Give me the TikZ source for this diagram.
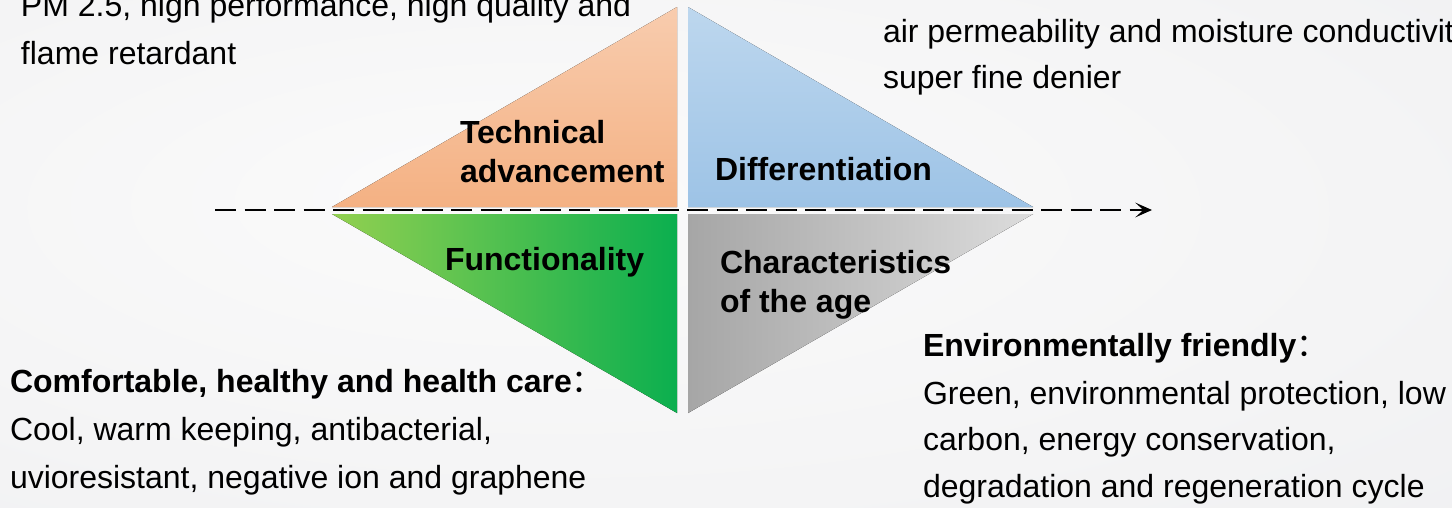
\documentclass[tikz,border=0pt]{standalone}
\usepackage{fontspec}
\setmainfont{Liberation Sans}
\newfontfamily\cjkfont{Noto Sans CJK SC}
\usetikzlibrary{arrows.meta}

% backdrop and quadrant colours
\definecolor{bgin}{HTML}{FBFBFB}
\definecolor{bgmid}{HTML}{F4F4F5}
\definecolor{bgout}{HTML}{E8E9EB}
\definecolor{orTop}{HTML}{F8CCAE}
\definecolor{orBot}{HTML}{F4B183}
\definecolor{blTop}{HTML}{BDD7EE}
\definecolor{blBot}{HTML}{9DC3E6}
\definecolor{grL}{HTML}{92D050}
\definecolor{grR}{HTML}{0BAF4F}
\definecolor{gyL}{HTML}{A6A6A6}
\definecolor{gyR}{HTML}{DCDCDC}

\pgfdeclareradialshading{backdrop}{\pgfpoint{-8bp}{6bp}}{%
  color(0bp)=(bgin); color(28bp)=(bgmid); color(75bp)=(bgout)}

% full-width colon, set in regular weight
\newcommand{\fwcolon}{{\cjkfont\mdseries ：}}

\tikzset{
  body/.style={anchor=base west, inner sep=0pt, outer sep=0pt,
    font=\fontsize{24}{28}\selectfont},
  head/.style={body, font=\fontsize{24}{28}\selectfont\bfseries},
  axis/.style={line width=2pt, dash pattern=on 15.75pt off 6.375pt,
    -{Stealth[length=12.5pt,width=11pt,inset=6pt]}}
}

\begin{document}
\begin{tikzpicture}[x=0.75pt, y=-0.75pt]
  \useasboundingbox (0,0) rectangle (1452,507);
  \clip (0,0) rectangle (1452,507);

  % soft grey backdrop
  \shade[shading=backdrop] (0,0) rectangle (1452,507);

  % the four quadrant triangles
  \fill[top color=orTop, bottom color=orBot] (332,207) -- (677,207) -- (677,7) -- cycle;
  \fill[top color=blTop, bottom color=blBot] (688,7) -- (688,207) -- (1033,207) -- cycle;
  \fill[left color=grL, right color=grR] (332,214) -- (677,214) -- (677,413) -- cycle;
  \fill[left color=gyL, right color=gyR] (688,214) -- (1033,214) -- (688,413) -- cycle;

  % dashed axis
  \coordinate (axL) at (215,210);
  \coordinate (axR) at (1152,210);
  \draw[axis] (axL) -- (axR);

  % quadrant labels
  \node[head] (techA) at (460,143) {Technical};
  \node[head] (techB) at (460,182) {advancement};
  \node[head] (diff) at (715,180) {Differentiation};
  \node[head] (func) at (445,270) {Functionality};
  \node[head] (ageA) at (720,273) {Characteristics};
  \node[head] (ageB) at (720,312) {of the age};

  % upper left notes
  \node[body] (tlA) at (21,16) {PM 2.5, high performance, high quality and};
  \node[body] (tlB) at (21,64) {flame retardant};

  % upper right notes
  \node[body] (trA) at (883,42) {air permeability and moisture conductivity};
  \node[body] (trB) at (883,88) {super fine denier};

  % lower left notes
  \node[head] (blA) at (10,392) {Comfortable, healthy and health care\fwcolon};
  \node[body] (blB) at (10,440) {Cool, warm keeping, antibacterial,};
  \node[body] (blC) at (10,488) {uvioresistant, negative ion and graphene};

  % lower right notes
  \node[head] (brA) at (923,356) {Environmentally friendly\fwcolon};
  \node[body] (brB) at (923,404) {Green, environmental protection, low};
  \node[body] (brC) at (923,450) {carbon, energy conservation,};
  \node[body] (brD) at (923,497) {degradation and regeneration cycle};
\end{tikzpicture}
\end{document}
